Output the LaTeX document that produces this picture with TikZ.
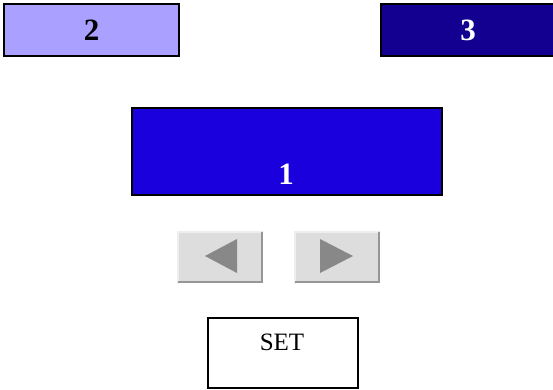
\documentclass[tikz,border=0pt]{standalone}
\usepackage{fontspec}
\setmainfont{Liberation Serif}
\definecolor{lightblue}{RGB}{170,160,255}
\definecolor{navyb}{RGB}{19,0,144}
\definecolor{brightb}{RGB}{26,0,221}
\definecolor{btnface}{RGB}{221,221,221}
\definecolor{btnlight}{RGB}{238,238,238}
\definecolor{btndark}{RGB}{150,150,150}
\definecolor{arrowgrey}{RGB}{136,136,136}
\begin{document}
\begin{tikzpicture}[x=1pt,y=-1pt,
  panel/.style={draw=black,line width=2pt,inner sep=0pt,anchor=north west},
  digit/.style={font=\fontsize{31}{33}\selectfont\bfseries},
  btn/.style={fill=btnface,draw=none,inner sep=0pt,anchor=north west,minimum width=86pt,minimum height=52pt},
  tri/.style={fill=arrowgrey,draw=none}]
\useasboundingbox (0,0) rectangle (553,389);
% top boxes
\node[panel,fill=lightblue,minimum width=175pt,minimum height=52pt,digit] (b2) at (3,3) {2};
\node[panel,fill=navyb,minimum width=174pt,minimum height=52pt,digit,text=white] (b3) at (380,3) {3};
% main box
\node[panel,fill=brightb,minimum width=310pt,minimum height=87pt] (b1) at (131,107) {};
\node[digit,text=white] (l1) at (286,174) {1};
% buttons
\node[btn] (left) at (177,231) {};
\node[btn] (right) at (294,231) {};
\foreach \b in {left,right}{
  \draw[btnlight,line width=2pt] ([xshift=1pt,yshift=-1pt]\b.south west) -- ([xshift=1pt,yshift=-1pt]\b.north west) -- ([xshift=-1pt,yshift=-1pt]\b.north east);
  \draw[btndark,line width=2pt] ([xshift=-1pt,yshift=-1pt]\b.north east) -- ([xshift=-1pt,yshift=1pt]\b.south east) -- ([xshift=1pt,yshift=1pt]\b.south west);
}
\coordinate (lt1) at (205,256);
\coordinate (lt2) at (237,239);
\coordinate (lt3) at (237,273);
\fill[tri] (lt1) -- (lt2) -- (lt3) -- cycle;
\coordinate (rt1) at (353,256);
\coordinate (rt2) at (320,239);
\coordinate (rt3) at (320,273);
\fill[tri] (rt1) -- (rt2) -- (rt3) -- cycle;
% SET
\node[panel,fill=white,line width=1.5pt,minimum width=150pt,minimum height=70pt] (set) at (207,317) {};
\node[font=\fontsize{25}{27}\selectfont] (setl) at (282,342) {SET};
\end{tikzpicture}
\end{document}
